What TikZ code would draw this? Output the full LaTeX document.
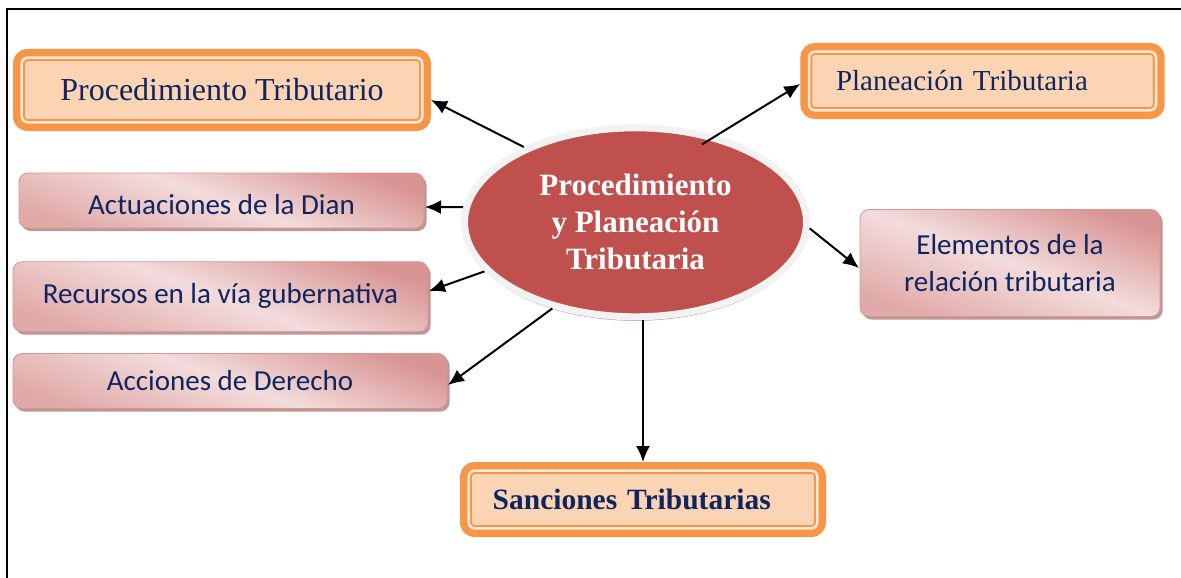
\documentclass[tikz,border=0pt]{standalone}
\usepackage{fontspec}
\setmainfont{Liberation Serif}
\newfontfamily\calibri{Carlito}
\usetikzlibrary{arrows.meta,shapes.geometric,shadows}

\definecolor{boxorange}{RGB}{247,150,70}
\definecolor{peach}{RGB}{251,212,180}
\definecolor{peachlight}{RGB}{253,233,217}
\definecolor{pinkD}{RGB}{217,149,148}
\definecolor{pinkL}{RGB}{242,220,219}
\definecolor{pinkS}{RGB}{190,150,150}
\definecolor{navy}{RGB}{16,37,96}
\definecolor{ellred}{RGB}{192,80,77}
\definecolor{rim}{RGB}{242,242,242}

\begin{document}
\begin{tikzpicture}[x=1pt,y=-1pt]
\useasboundingbox (0,0) rectangle (1181,578);
\draw[line width=2pt] (7,578) -- (7,9) -- (1181,9);

\tikzset{obox/.style={draw=boxorange, fill=peach, line width=2pt, double=peachlight,
    double distance=2.5pt, rounded corners=6pt, preaction={draw=boxorange, line width=17.4pt},
    outer sep=8.7pt, inner sep=0pt, text=navy},
  pbox/.style={draw=pinkD, line width=0.8pt, rounded corners=9pt, top color=pinkD,
    bottom color=pinkD!70!pinkL, middle color=pinkL, shading angle=-20,
    drop shadow={shadow xshift=2.5pt, shadow yshift=-3pt, fill=pinkS, opacity=1},
    text=navy, font=\calibri\fontsize{29}{36.7}\selectfont, align=center,
    inner sep=0pt, outer sep=1pt}}

\node (C) at (635.5, 222.3) [ellipse, minimum width=342pt, minimum height=189pt, inner sep=0pt,
  fill=ellred, draw=rim, line width=7pt,
  drop shadow={shadow xshift=0pt, shadow yshift=-4pt, fill=pinkS, opacity=1},
  text=white, font=\bfseries\fontsize{31}{37}\selectfont, align=center]
  {Procedimiento\\ y Planeación\\ Tributaria};

\node (PT) at (222, 90) [obox, minimum width=400.6pt, minimum height=64.6pt,
  font=\fontsize{32}{38}\selectfont] {Procedimiento Tributario};
\node (PlT) at (982.5, 81) [obox, text width=293pt, inner xsep=27pt, minimum height=58.6pt,
  align=left, font=\fontsize{29}{35}\selectfont] {Planeación Tributaria};
\node (ST) at (643, 499.5) [obox, text width=300.6pt, inner xsep=24pt, minimum height=57.6pt,
  align=left, font=\bfseries\fontsize{29.5}{35}\selectfont] {Sanciones Tributarias};

\node (AD) at (221.5, 200.5) [pbox, minimum width=405pt, minimum height=55pt,
  text height=27.6pt, text depth=0pt] {Actuaciones de la Dian};
\node (RV) at (220.5, 296.7) [pbox, minimum width=415pt, minimum height=70pt,
  text height=20pt, text depth=7.4pt] {Recursos en la vía gubernativa};
\node (AcD) at (230, 381) [pbox, minimum width=434pt, minimum height=55pt] {Acciones de Derecho};
\node (ER) at (1010, 263) [pbox, minimum width=300pt, minimum height=107pt] {Elementos de la\\ relación tributaria};

\tikzset{myarrow/.style={-{Latex[length=16pt,width=14pt]}, line width=2pt}};
\path (C.146) edge [myarrow] ([yshift=-10pt]PT.east);
\path (C.47) edge [myarrow, shorten <=-17pt] ([yshift=-3pt]PlT.west);
\path (C.175) edge [myarrow] ([yshift=-6.5pt]AD.east);
\path (C.198) edge [myarrow] ([yshift=5.7pt]RV.east);
\path (C.226) edge [myarrow] ([yshift=-4pt]AcD.east);
\path (C.-2) edge [myarrow] ([yshift=-5pt]ER.west);
\path (ST.north |- C.south) edge [myarrow] (ST.north);
\end{tikzpicture}
\end{document}
